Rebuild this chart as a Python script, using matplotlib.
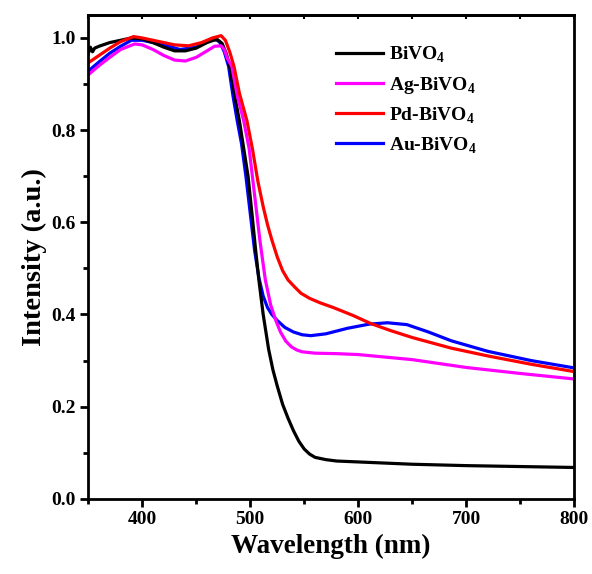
# UV-vis 漫反射光谱
import numpy as np
import matplotlib.pyplot as plt

plt.rcParams['font.family'] = ['Liberation Serif', 'DejaVu Serif']
plt.rcParams['font.weight'] = 'bold'
plt.rcParams['mathtext.fontset'] = 'custom'
plt.rcParams['mathtext.rm'] = 'Liberation Serif:bold'
plt.rcParams['mathtext.bf'] = 'Liberation Serif:bold'

# 波长 (nm) 与强度
wl_bivo4 = [350, 352, 354, 356, 360, 370, 380, 390, 400, 410, 420, 430, 440, 450,
            460, 466, 470, 474, 478, 481, 486, 490, 494, 498, 502, 505, 508, 512,
            517, 521, 525, 530, 535, 540, 545, 550, 555, 560, 570, 580, 600, 650,
            700, 750, 800]
int_bivo4 = [0.965, 0.98, 0.97, 0.978, 0.982, 0.99, 0.995, 1.0, 0.998, 0.99, 0.98,
             0.972, 0.972, 0.978, 0.99, 0.995, 0.996, 0.988, 0.965, 0.938, 0.87,
             0.82, 0.76, 0.70, 0.61, 0.54, 0.475, 0.40, 0.325, 0.28, 0.245, 0.205,
             0.175, 0.148, 0.125, 0.108, 0.097, 0.09, 0.085, 0.082, 0.08, 0.075,
             0.072, 0.07, 0.068]

wl_ag = [350, 360, 370, 380, 393, 400, 410, 420, 430, 440, 450, 460, 467, 473, 476,
         479, 483, 488, 494, 499, 504, 509, 514, 519, 524, 528, 533, 538, 543, 548,
         560, 580, 600, 650, 700, 750, 800]
int_ag = [0.92, 0.94, 0.958, 0.975, 0.987, 0.985, 0.975, 0.962, 0.952, 0.95, 0.958,
          0.972, 0.982, 0.983, 0.975, 0.955, 0.938, 0.875, 0.82, 0.76, 0.66, 0.56,
          0.475, 0.42, 0.385, 0.362, 0.342, 0.33, 0.323, 0.319, 0.316, 0.315,
          0.313, 0.302, 0.285, 0.272, 0.26]

wl_pd = [350, 360, 370, 380, 392, 400, 410, 420, 430, 443, 455, 465, 473, 477, 481,
         485, 490, 497, 502, 507, 512, 516, 520, 525, 530, 535, 541, 547, 555, 565,
         577, 595, 612, 630, 650, 686, 720, 760, 800]
int_pd = [0.946, 0.962, 0.978, 0.992, 1.003, 1.0, 0.995, 0.99, 0.985, 0.983, 0.99,
          1.0, 1.005, 0.995, 0.97, 0.938, 0.88, 0.82, 0.76, 0.69, 0.634, 0.595,
          0.562, 0.525, 0.495, 0.475, 0.46, 0.446, 0.435, 0.425, 0.415, 0.398,
          0.38, 0.365, 0.35, 0.327, 0.31, 0.292, 0.276]

wl_au = [350, 360, 370, 380, 390, 400, 410, 420, 435, 450, 460, 467, 472, 476, 480,
         484, 488, 492, 496, 500, 504, 508, 512, 516, 520, 525, 532, 540, 548, 556,
         570, 590, 610, 627, 645, 665, 686, 720, 760, 800]
int_au = [0.928, 0.948, 0.967, 0.982, 0.995, 0.995, 0.99, 0.985, 0.975, 0.98, 0.993,
          1.0, 0.99, 0.97, 0.938, 0.875, 0.82, 0.77, 0.70, 0.62, 0.54, 0.48, 0.44,
          0.415, 0.40, 0.387, 0.372, 0.362, 0.356, 0.354, 0.358, 0.37, 0.379,
          0.382, 0.378, 0.362, 0.343, 0.32, 0.30, 0.284]

labels = [r'BiVO$_4$', r'Ag-BiVO$_4$', r'Pd-BiVO$_4$', r'Au-BiVO$_4$']
colors = ['black', '#ff00ff', 'red', 'blue']

fig = plt.figure(figsize=(5.92, 5.74), dpi=100)
ax = fig.add_axes([0.149, 0.131, 0.821, 0.843])

lw = 2.3
ax.plot(wl_au, int_au, color=colors[3], lw=lw, label=labels[3], zorder=2)
ax.plot(wl_bivo4, int_bivo4, color=colors[0], lw=lw, label=labels[0], zorder=2.1)
ax.plot(wl_ag, int_ag, color=colors[1], lw=lw, label=labels[1], zorder=2.2)
ax.plot(wl_pd, int_pd, color=colors[2], lw=lw, label=labels[2], zorder=2.3)

ax.set_xlim(350, 800)
ax.set_ylim(0, 1.05)
ax.set_xticks([400, 500, 600, 700, 800])
ax.set_xticks(np.arange(350, 801, 50), minor=True)
ax.set_yticks([0.0, 0.2, 0.4, 0.6, 0.8, 1.0])
ax.set_yticks(np.arange(0, 1.05, 0.1), minor=True)

for s in ax.spines.values():
    s.set_linewidth(2)
ax.tick_params(which='major', direction='out', length=6, width=2, labelsize=14, pad=3)
ax.tick_params(which='minor', direction='out', length=3.5, width=2)

# 上边框的内向刻度
top = ax.secondary_xaxis('top')
top.set_xticks([400, 500, 600, 700, 800])
top.set_xticks(np.arange(350, 801, 50), minor=True)
top.tick_params(which='both', direction='in', length=3, width=1.5, labeltop=False)
top.spines['top'].set_linewidth(2)

ax.set_xlabel('Wavelength (nm)', fontsize=19.5, fontweight='bold', labelpad=4)
ax.set_ylabel('Intensity (a.u.)', fontsize=20.5, fontweight='bold', labelpad=3)

handles, labs = ax.get_legend_handles_labels()
order = [1, 2, 3, 0]
ax.legend([handles[i] for i in order], [labs[i] for i in order],
          loc='upper left', bbox_to_anchor=(0.474, 0.975), frameon=False,
          fontsize=14, handlelength=2.4, handletextpad=0.3,
          labelspacing=0.5)

fig.savefig('out.png', dpi=100)
